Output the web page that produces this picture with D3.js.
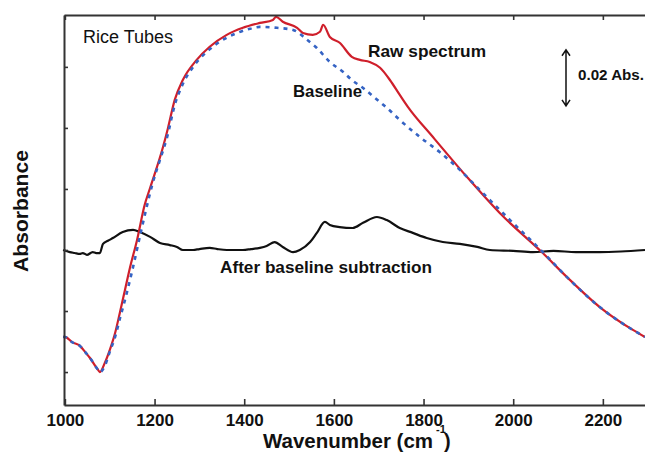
<!DOCTYPE html>
<html>
<head>
<meta charset="utf-8">
<script src="https://cdn.jsdelivr.net/npm/d3@7"></script>
<style>
  body { margin: 0; background: #fff; }
  svg { display: block; font-family: "Liberation Sans", Arial, sans-serif; }
</style>
</head>
<body>
<svg id="chart" width="645" height="453"></svg>
<script>
// wavenumber (cm-1), absorbance
const rawSpectrum = [
  [996,-0.0285],[1000,-0.0285],[1016,-0.0302],[1034,-0.0315],[1045,-0.0334],[1056,-0.0354],
  [1074,-0.0393],[1078,-0.0400],[1089,-0.0370],[1100,-0.0328],[1112,-0.0272],[1123,-0.0203],
  [1134,-0.0131],[1145,-0.0059],[1161,0.0033],[1178,0.0148],[1190,0.0203],[1219,0.0338],
  [1230,0.0400],[1245,0.0492],[1263,0.0557],[1294,0.0623],[1323,0.0666],[1361,0.0705],
  [1397,0.0728],[1435,0.0744],[1464,0.0754],[1471,0.0764],[1486,0.0748],[1518,0.0728],
  [1531,0.0711],[1553,0.0705],[1569,0.0715],[1576,0.0738],[1591,0.0698],[1613,0.0679],
  [1640,0.0633],[1658,0.0623],[1680,0.0616],[1703,0.0597],[1725,0.0557],[1747,0.0508],
  [1765,0.0469],[1821,0.0370],[1897,0.0239],[1970,0.0121],[2066,-0.0010],[2120,-0.0089],
  [2193,-0.0187],[2267,-0.0262],[2294,-0.0285]
];
const baseline = [
  [996,-0.0285],[1000,-0.0285],[1016,-0.0302],[1034,-0.0315],[1045,-0.0334],[1056,-0.0354],
  [1074,-0.0393],[1078,-0.0400],[1089,-0.0380],[1100,-0.0334],[1112,-0.0285],[1123,-0.0223],
  [1134,-0.0164],[1149,-0.0075],[1172,0.0075],[1196,0.0220],[1212,0.0295],[1228,0.0370],
  [1245,0.0475],[1263,0.0544],[1286,0.0600],[1330,0.0666],[1384,0.0711],[1413,0.0725],
  [1435,0.0731],[1473,0.0728],[1509,0.0721],[1518,0.0715],[1535,0.0695],[1562,0.0662],
  [1591,0.0616],[1620,0.0584],[1640,0.0557],[1665,0.0531],[1692,0.0498],[1718,0.0466],
  [1747,0.0426],[1792,0.0370],[1836,0.0321],[1874,0.0272],[1932,0.0187],[1993,0.0098],
  [2066,-0.0007],[2120,-0.0089],[2193,-0.0187],[2267,-0.0262],[2294,-0.0285]
];
const corrected = [
  [996,0],[1011,-0.0007],[1022,-0.0010],[1033,-0.0013],[1040,-0.0010],[1049,-0.0016],
  [1062,-0.0007],[1070,-0.0010],[1078,-0.0010],[1085,0.0020],[1096,0.0030],[1107,0.0039],
  [1129,0.0059],[1152,0.0066],[1167,0.0059],[1190,0.0043],[1212,0.0023],[1234,0.0016],
  [1250,0.0010],[1263,0],[1286,0],[1300,0.0003],[1323,0.0007],[1340,0.0003],[1361,0],
  [1397,0],[1415,0.0003],[1435,0.0007],[1450,0.0013],[1468,0.0026],[1486,0.0010],
  [1509,-0.0007],[1524,0],[1547,0.0026],[1562,0.0056],[1580,0.0092],[1591,0.0082],
  [1613,0.0075],[1642,0.0072],[1665,0.0089],[1696,0.0108],[1718,0.0098],[1747,0.0072],
  [1776,0.0056],[1807,0.0039],[1843,0.0026],[1881,0.0020],[1920,0.0010],[1948,0],
  [2000,-0.0003],[2044,-0.0007],[2090,-0.0003],[2140,-0.0007],[2193,-0.0007],[2240,-0.0005],[2294,0]
];
const xTicks = [1000, 1200, 1400, 1600, 1800, 2000, 2200];
const yTicks = [-0.04, -0.02, 0, 0.02, 0.04, 0.06];
const scaleBar = [0.0656, 0.0472];

const svg = d3.select("#chart");
const x = d3.scaleLinear().domain([998, 2294]).range([64, 645]);
const y = d3.scaleLinear().domain([-0.0508, 0.0770]).range([405, 15]);

const line = d3.line().x(d => x(d[0])).y(d => y(d[1])).curve(d3.curveMonotoneX);

// curves
svg.append("path").datum(corrected)
  .attr("fill", "none").attr("stroke", "#111").attr("stroke-width", 2.2)
  .attr("stroke-linejoin", "round").attr("d", line);

svg.append("path").datum(rawSpectrum)
  .attr("fill", "none").attr("stroke", "#cf1f2b").attr("stroke-width", 2.2)
  .attr("stroke-linejoin", "round").attr("d", line);

svg.append("path").datum(baseline)
  .attr("fill", "none").attr("stroke", "#3563c4").attr("stroke-width", 2.6)
  .attr("stroke-dasharray", "4,5").attr("d", line);

// axes
const axisColor = "#333";
const gx = svg.append("g").attr("transform", "translate(0,405)")
  .call(d3.axisBottom(x).tickValues(xTicks).tickFormat(d3.format("d"))
    .tickSizeInner(-6).tickSizeOuter(0).tickPadding(9));
gx.selectAll("text").attr("font-size", 17).attr("font-weight", "bold")
  .attr("fill", "#111").attr("font-family", "Liberation Sans, Arial, sans-serif");

const gt = svg.append("g").attr("transform", "translate(0,15)")
  .call(d3.axisTop(x).tickValues(xTicks).tickSizeInner(-5).tickSizeOuter(0).tickFormat(""));

const gy = svg.append("g").attr("transform", "translate(64,0)")
  .call(d3.axisLeft(y).tickValues(yTicks).tickSizeInner(-4).tickSizeOuter(0).tickFormat(""));

[gx, gt, gy].forEach(g => {
  g.select(".domain").attr("stroke", axisColor).attr("stroke-width", 2);
  g.selectAll(".tick line").attr("stroke", axisColor).attr("stroke-width", 1.6);
});

// axis titles
const xt = svg.append("g").attr("font-weight", "bold").attr("fill", "#111");
xt.append("text").attr("x", 263).attr("y", 448).attr("font-size", 20)
  .attr("textLength", 170).attr("lengthAdjust", "spacingAndGlyphs").text("Wavenumber (cm");
xt.append("text").attr("x", 436).attr("y", 433).attr("font-size", 11).text("-1");
xt.append("text").attr("x", 444).attr("y", 448).attr("font-size", 20).text(")");

svg.append("text")
  .attr("transform", "translate(28,211) rotate(-90)")
  .attr("text-anchor", "middle").attr("font-size", 20).attr("font-weight", "bold")
  .attr("textLength", 122).attr("lengthAdjust", "spacingAndGlyphs")
  .attr("fill", "#111").text("Absorbance");

// annotations
svg.append("text").attr("x", 83).attr("y", 43).attr("font-size", 18)
  .attr("fill", "#111").text("Rice Tubes");

const labels = [
  {t: "Raw spectrum", x: 368, y: 57, w: 118},
  {t: "Baseline", x: 293, y: 97, w: 69},
  {t: "After baseline subtraction", x: 220, y: 273, w: 212}
];
svg.selectAll("text.lab").data(labels).join("text").attr("class", "lab")
  .attr("x", d => d.x).attr("y", d => d.y).attr("font-size", 17).attr("font-weight", "bold")
  .attr("textLength", d => d.w).attr("lengthAdjust", "spacingAndGlyphs")
  .attr("fill", "#111").text(d => d.t);

// scale bar
const ax = 566;
const y0 = y(scaleBar[0]), y1 = y(scaleBar[1]);
svg.append("path")
  .attr("d", `M${ax},${y0}V${y1}M${ax - 4},${y0 + 6}L${ax},${y0}L${ax + 4},${y0 + 6}M${ax - 4},${y1 - 6}L${ax},${y1}L${ax + 4},${y1 - 6}`)
  .attr("fill", "none").attr("stroke", "#111").attr("stroke-width", 1.5);
svg.append("text").attr("x", 578).attr("y", 80).attr("font-size", 15).attr("font-weight", "bold")
  .attr("textLength", 66).attr("lengthAdjust", "spacingAndGlyphs")
  .attr("fill", "#111").text("0.02 Abs.");
</script>
</body>
</html>
